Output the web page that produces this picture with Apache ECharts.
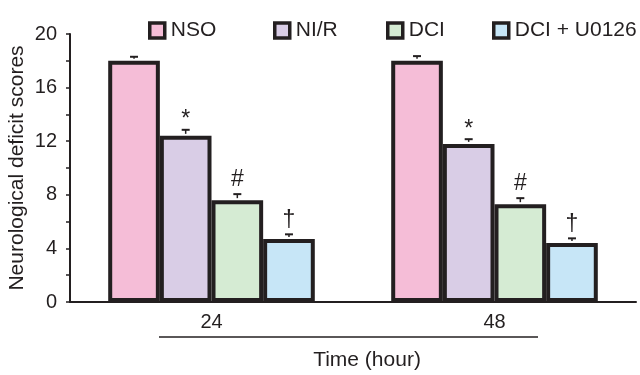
<!DOCTYPE html>
<html>
<head>
<meta charset="utf-8">
<script src="https://cdn.jsdelivr.net/npm/echarts@6/dist/echarts.min.js"></script>
<style>html,body{margin:0;padding:0;background:#fff;}#c{width:640px;height:375px;}</style>
</head>
<body>
<div id="c"></div>
<script>
const categories = ['24', '48'];
const seriesNames = ['NSO', 'NI/R', 'DCI', 'DCI + U0126'];
const nsoValues = [18.0, 18.0];
const nirValues = [12.4, 11.8];
const dciValues = [7.6, 7.3];
const u0126Values = [4.7, 4.4];
const nsoErr = [0.3, 0.35];
const nirErr = [0.45, 0.35];
const dciErr = [0.45, 0.45];
const u0126Err = [0.35, 0.35];
const marks = ['', '*', '#', '\u2020'];
const yTicks = [0, 4, 8, 12, 16, 20];

const values = [nsoValues, nirValues, dciValues, u0126Values];
const errs = [nsoErr, nirErr, dciErr, u0126Err];
const colors = ['#f5bdd7', '#d9cde6', '#d5ebd3', '#c7e6f7'];
const ink = '#231f20';
const font = 'Liberation Sans, Arial, sans-serif';
const catGap = 0.27;

const chart = echarts.init(document.getElementById('c'));

const series = [];
values.forEach((vals, i) => {
  series.push({
    name: seriesNames[i],
    type: 'bar',
    data: vals,
    barGap: '0%',
    barCategoryGap: (catGap * 100) + '%',
    itemStyle: { color: colors[i], borderColor: ink, borderWidth: 4 },
    z: 2
  });
});
values.forEach((vals, i) => {
  series.push({
    type: 'custom',
    silent: true,
    z: 5,
    data: vals.map((v, k) => [k, v, errs[i][k]]),
    encode: { x: 0, y: 1 },
    renderItem: function (params, api) {
      const cat = api.value(0), val = api.value(1), err = api.value(2);
      const band = api.size([1, 0])[0];
      const bw = band * (1 - catGap) / 4;
      const p = api.coord([cat, val]);
      const x = p[0] + (i - 1.5) * bw;
      const yTop = p[1] - 2;
      const yErr = api.coord([cat, val + err])[1];
      const children = [
        { type: 'line', shape: { x1: x, y1: yTop, x2: x, y2: yErr }, style: { stroke: ink, lineWidth: 1.5 } },
        { type: 'line', shape: { x1: x - 4, y1: yErr, x2: x + 4, y2: yErr }, style: { stroke: ink, lineWidth: 2 } }
      ];
      const m = marks[i];
      if (m) {
        children.push({
          type: 'text',
          style: {
            text: m, x: x, y: yErr - (m === '*' ? 10 : 14),
            align: 'center', verticalAlign: 'middle',
            font: '23px ' + font, fill: ink
          }
        });
      }
      return { type: 'group', children: children };
    }
  });
});

const legendLefts = [148, 273, 386, 492];
const legends = seriesNames.map((n, i) => ({
  data: [n],
  left: legendLefts[i],
  top: 20,
  padding: 0,
  icon: 'rect',
  itemWidth: 15,
  itemHeight: 15,
  itemGap: 6,
  selectedMode: false,
  itemStyle: { borderColor: ink, borderWidth: 3.5 },
  textStyle: { fontSize: 21, fontFamily: font, color: ink, padding: [0, 0, 0, 1] }
}));

chart.setOption({
  animation: false,
  backgroundColor: '#fff',
  legend: legends,
  grid: { left: 70, right: 4, top: 34, bottom: 73, outerBoundsMode: 'none', containLabel: false },
  xAxis: {
    type: 'category',
    data: categories,
    axisLine: { lineStyle: { color: ink, width: 2 } },
    axisTick: { inside: true, length: 5, lineStyle: { color: ink, width: 1.5 } },
    axisLabel: { fontSize: 20, fontFamily: font, color: ink, margin: 10 },
    name: 'Time (hour)',
    nameLocation: 'middle',
    nameGap: 48,
    nameTextStyle: { fontSize: 21, fontFamily: font, color: ink, padding: [0, 0, 0, 28] }
  },
  yAxis: {
    type: 'value',
    min: yTicks[0],
    max: yTicks[yTicks.length - 1],
    interval: 4,
    axisLine: { show: true, lineStyle: { color: ink, width: 2 } },
    axisTick: { show: true, length: 4, lineStyle: { color: ink, width: 1.5 } },
    minorTick: { show: true, splitNumber: 2, length: 4, lineStyle: { color: ink, width: 1.5 } },
    splitLine: { show: false },
    axisLabel: { fontSize: 20, fontFamily: font, color: ink, margin: 13 },
    name: 'Neurological deficit scores',
    nameLocation: 'middle',
    nameMoveOverlap: false,
    nameGap: 42,
    nameTextStyle: { fontSize: 21, fontFamily: font, color: ink }
  },
  graphic: [{
    type: 'line',
    shape: { x1: 159, y1: 337, x2: 538, y2: 337 },
    style: { stroke: ink, lineWidth: 1.5 }
  }],
  series: series
});
</script>
</body>
</html>
